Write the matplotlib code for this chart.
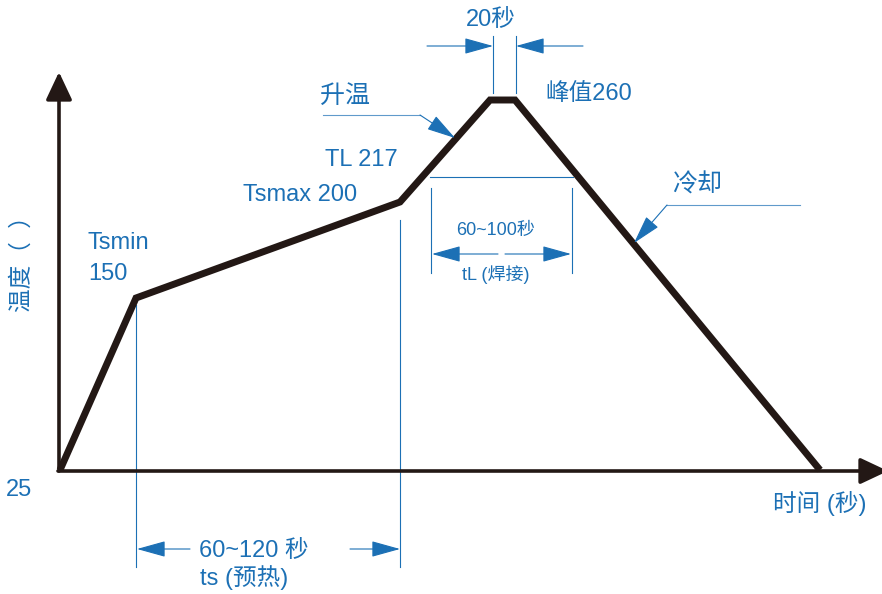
import numpy as np
import matplotlib.pyplot as plt

# reflow profile (schematic): position along the time axis, temperature in C
profile_x = [60, 136, 400, 490, 515, 820]
profile_temp = [25, 150, 200, 260, 260, 25]

# the drawing is not to scale: height (px from the bottom) of each temperature
lvl_temp = [-65, 25, 150, 200, 217, 260, 320]
lvl_px = [0, 124, 296, 392, 417, 494, 596]

W, H = 882, 594
BLUE = '#1c70b5'
BLACK = '#231815'

plt.rcParams['font.family'] = ['Liberation Sans', 'Noto Sans CJK SC']

fig = plt.figure(figsize=(W / 100, H / 100), dpi=100)
ax = fig.add_axes([0, 0, 1, 1])
ax.set_yscale('function', functions=(lambda t: np.interp(t, lvl_temp, lvl_px),
                                     lambda h: np.interp(h, lvl_px, lvl_temp)))
ax.set_xlim(0, W)
ax.set_ylim(np.interp(0, lvl_px, lvl_temp), np.interp(H, lvl_px, lvl_temp))
ax.axis('off')

bt = ax.get_xaxis_transform()


def fy(py):
    return 1 - py / H


def label(px, py, s, size=16, **kw):
    fig.text(px / W, fy(py), s, color=BLUE, fontsize=size,
             ha=kw.pop('ha', 'center'), va=kw.pop('va', 'center'), **kw)


def arrow(x0, y0, x1, y1, color=BLUE, lw=0.8, hl=1.8, hw=0.5):
    ax.annotate('', xy=(x1, fy(y1)), xytext=(x0, fy(y0)), xycoords=bt, textcoords=bt,
                arrowprops=dict(arrowstyle=f'-|>,head_length={hl},head_width={hw}',
                                mutation_scale=10, color=color, lw=lw,
                                shrinkA=0, shrinkB=0))


def guide(xs, ys, lw=0.8, alpha=1.0):
    ax.plot(xs, [fy(v) for v in ys], transform=bt, color=BLUE, lw=lw, alpha=alpha)


# axes
arrow(59, 471, 59, 72, color=BLACK, lw=2.6, hl=1.7, hw=0.8)
arrow(58, 471, 888, 471, color=BLACK, lw=2.6, hl=1.7, hw=0.8)

# profile
ax.plot(profile_x, profile_temp, color=BLACK, lw=5, solid_joinstyle='miter',
        solid_capstyle='butt', zorder=3)

# preheat dimension
guide([profile_x[1]] * 2, [305, 567])
guide([profile_x[2]] * 2, [220, 567])
arrow(190, 549, profile_x[1] + 1, 549)
arrow(350, 549, profile_x[2], 549)
label(254, 551, '60~120 秒', 17)
label(244, 578, 'ts (预热)', 17)

# time above liquidus
guide([430, 573], [177, 177])
guide([431, 431], [188, 273])
guide([572, 572], [188, 273])
arrow(498, 254, 432, 254)
arrow(505, 254, 571, 254)
label(496, 231, '60~100秒', 13)
label(496, 275, 'tL (焊接)', 13)

# peak time
guide([493, 493], [36, 93])
guide([516, 516], [36, 93])
arrow(427, 46, 493, 46)
arrow(583, 46, 516, 46)
label(491, 20, '20秒', 17)

# leaders
guide([323, 420], [115, 115], alpha=0.7)
arrow(420, 115, 455, 138)
guide([667, 800], [205, 205], alpha=0.7)
arrow(667, 205, 634, 243)

label(345, 96, '升温', 18)
label(697, 185, '冷却', 18)
label(545, 94, '峰值260', 17, ha='left')
label(325, 160, 'TL 217', 17, ha='left')
label(243, 195, 'Tsmax 200', 17, ha='left')
label(88, 243, 'Tsmin', 17, ha='left')
label(88, 274, '150', 17, ha='left')
label(19, 490, '25', 17)
label(820, 504, '时间 (秒)', 17)
label(22, 258, '温度（  ）', 17, rotation=90)

fig.savefig('out.png', dpi=100, facecolor='white')
